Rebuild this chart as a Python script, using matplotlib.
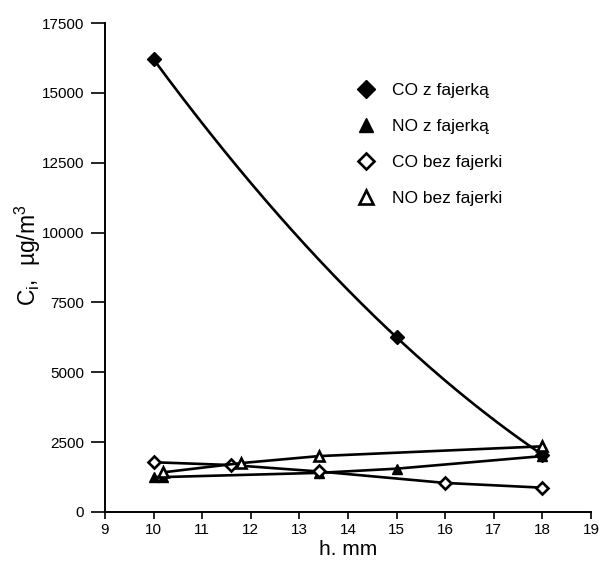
import numpy as np
import matplotlib
matplotlib.use('Agg')
import matplotlib.pyplot as plt

plt.rcParams['font.family'] = ['Liberation Sans', 'DejaVu Sans']
plt.rcParams['mathtext.fontset'] = 'custom'
plt.rcParams['mathtext.rm'] = 'Liberation Sans'
plt.rcParams['mathtext.it'] = 'Liberation Sans'

# h [mm] vs concentration [ug/m3]
co_z_h = [10, 15, 18]
co_z = [16200, 6250, 2050]

no_z_h = [10, 10.2, 13.4, 15, 18]
no_z = [1250, 1250, 1400, 1550, 2000]

co_bez_h = [10, 11.6, 13.4, 16, 18]
co_bez = [1780, 1680, 1450, 1040, 870]

no_bez_h = [10.2, 11.8, 13.4, 18]
no_bez = [1420, 1750, 2000, 2350]

x_ticks = list(range(9, 20))
y_ticks = [0, 2500, 5000, 7500, 10000, 12500, 15000, 17500]

fig = plt.figure(figsize=(6.02, 5.62), dpi=100)
ax = fig.add_axes([0.1744, 0.089, 0.8073, 0.870])

# smooth trend through the CO points
coef = np.polyfit(co_z_h, co_z, 2)
xs = np.linspace(co_z_h[0], co_z_h[-1], 200)
ax.plot(xs, np.polyval(coef, xs), color='black', lw=1.9)
ax.plot(co_z_h, co_z, ls='none', marker='D', ms=7, color='black',
        label='CO z fajerką')

ax.plot(no_z_h, no_z, color='black', lw=1.9, marker='^', ms=7,
        label='NO z fajerką')
ax.plot(co_bez_h, co_bez, color='black', lw=1.9, marker='D', ms=6,
        mfc='white', mew=1.9, label='CO bez fajerki')
ax.plot(no_bez_h, no_bez, color='black', lw=1.9, marker='^', ms=7,
        mfc='white', mew=1.9, label='NO bez fajerki')

ax.set_xlim(9, 19)
ax.set_ylim(0, 17500)
ax.set_xticks(x_ticks)
ax.set_yticks(y_ticks)
ax.spines['top'].set_visible(False)
ax.spines['right'].set_visible(False)
ax.spines['left'].set_linewidth(1.4)
ax.spines['bottom'].set_linewidth(1.4)
ax.tick_params(axis='y', length=10, width=1.2, labelsize=11, pad=5)
ax.tick_params(axis='x', length=5, width=1.2, labelsize=11, pad=3)

ax.set_xlabel('h. mm', fontsize=15, labelpad=2)
ax.set_ylabel('C$_{i}$,  µg/m$^3$', fontsize=16.5)
ax.yaxis.set_label_coords(-0.128, 0.525)

leg = ax.legend(loc='upper left', bbox_to_anchor=(0.487, 0.91), frameon=False,
                handlelength=1.0, handletextpad=1.0, labelspacing=1.2,
                fontsize=12.5, markerscale=1.35)
for line in leg.get_lines():
    line.set_linestyle('none')

fig.savefig('out.png', dpi=100)
